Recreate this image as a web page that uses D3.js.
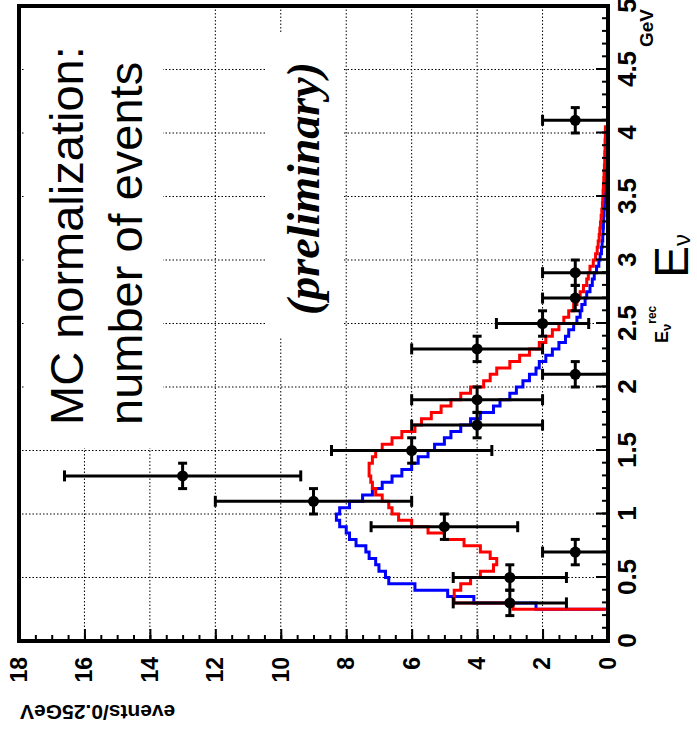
<!DOCTYPE html>
<html><head><meta charset="utf-8">
<script src="https://cdn.jsdelivr.net/npm/d3@7"></script>
<style>body{margin:0;background:#fff}svg{display:block}</style>
</head><body>
<script>
// ---- data ----
const eTickValues = [0,0.5,1,1.5,2,2.5,3,3.5,4,4.5,5];
const eTickLabels = ["0","0.5","1","1.5","2","2.5","3","3.5","4","4.5","5"];
const yTickValues = [0,2,4,6,8,10,12,14,16,18];
const yTickLabels = ["0","2","4","6","8","10","12","14","16","18"];

const dataE   = [0.3,0.5,0.7,0.9,1.1,1.3,1.5,1.7,1.9,2.1,2.3,2.5,2.7,2.9,4.1];
const dataN   = [3,3,1,5,9,13,6,4,4,1,4,2,1,1,1];
const dataErr = [1.73,1.73,1,2.24,3,3.61,2.45,2,2,1,2,1.41,1,1,1];
const dataEErr = 0.1;

const histStart = 0.25, histBinWidth = 0.05;
const blueMC = [2.2,4.1,4.9,5.9,6.7,6.8,7.0,7.1,7.3,7.4,7.7,7.9,8.0,8.2,8.3,8.2,7.9,7.5,7.2,6.9,
  6.6,6.3,6.0,5.8,5.5,5.3,5.0,4.8,4.5,4.2,3.9,3.5,3.3,3.0,2.8,2.6,2.4,2.2,2.1,1.9,
  1.7,1.5,1.3,1.2,1.05,0.95,0.85,0.8,0.7,0.65,0.55,0.48,0.42,0.35,0.28,0.24,0.2,0.18,0.16,0.15,
  0.14,0.13,0.12,0.11,0.1,0.09,0.08,0.07,0.06,0.05,0.04];
const redMC = [2.9,4.7,4.7,4.5,4.2,3.9,3.5,3.4,3.6,3.9,4.4,5.0,5.5,6.0,6.4,6.6,6.7,6.9,7.1,7.2,
  7.25,7.3,7.3,7.2,7.1,6.9,6.6,6.3,5.9,5.7,5.4,5.1,4.8,4.5,4.2,3.8,3.6,3.4,3.0,2.7,
  2.4,2.1,1.9,1.7,1.5,1.35,1.2,1.05,0.95,0.85,0.75,0.65,0.6,0.55,0.45,0.38,0.33,0.3,0.27,0.25,
  0.23,0.21,0.19,0.17,0.16,0.15,0.14,0.13,0.12,0.11,0.1,0.1,0.09,0.09,0.08,0.08];

// ---- layout (original, unrotated frame: 731 wide x 697 tall) ----
const W = 697, H = 731;
const svg = d3.select("body").append("svg").attr("width", W).attr("height", H);
const g = svg.append("g").attr("transform", `translate(0,${H}) rotate(-90)`);

const x = d3.scaleLinear().domain([0,5]).range([90,725]);
const y = d3.scaleLinear().domain([0,18]).range([608,19]);

const sans = "'Liberation Sans', Arial, Helvetica, sans-serif";

// grid
const grid = g.append("g").attr("stroke","#000").attr("stroke-width",1).attr("stroke-dasharray","1.5,2");
eTickValues.slice(1,-1).forEach(v => grid.append("line").attr("x1",x(v)).attr("x2",x(v)).attr("y1",y(0)).attr("y2",y(18)));
yTickValues.slice(1,-1).forEach(v => grid.append("line").attr("x1",x(0)).attr("x2",x(5)).attr("y1",y(v)).attr("y2",y(v)));

// white text boxes (cover grid)
g.append("rect").attr("x",283).attr("y",25).attr("width",725-283).attr("height",163-25).attr("fill","#fff");
g.append("rect").attr("x",393).attr("y",267).attr("width",698-393).attr("height",343-267).attr("fill","#fff");

g.append("text").attr("x",306).attr("y",83).attr("font-family",sans).attr("font-size",47).text("MC normalization:");
g.append("text").attr("x",306).attr("y",142).attr("font-family",sans).attr("font-size",47).text("number of events");
g.append("text").attr("x",416).attr("y",319).attr("font-family","'Liberation Serif', 'Times New Roman', serif")
  .attr("font-size",46).attr("font-weight","bold").attr("font-style","italic").text("(preliminary)");

// histograms
function histPath(vals){
  const pts = [[histStart,0]];
  vals.forEach((v,i)=>{ const lo = histStart+i*histBinWidth; pts.push([lo,v],[lo+histBinWidth,v]); });
  pts.push([histStart+vals.length*histBinWidth,0]);
  return d3.line().x(d=>x(d[0])).y(d=>y(d[1]))(pts);
}
g.append("path").attr("d",histPath(blueMC)).attr("fill","none").attr("stroke","#0000ff").attr("stroke-width",3);
g.append("path").attr("d",histPath(redMC)).attr("fill","none").attr("stroke","#ff0000").attr("stroke-width",3);

// data points
const pg = g.append("g").attr("stroke","#000").attr("stroke-width",3);
dataE.forEach((e,i)=>{
  const n = dataN[i], er = dataErr[i];
  const cx = x(e), cy = y(n);
  pg.append("line").attr("x1",cx).attr("x2",cx).attr("y1",y(n-er)).attr("y2",y(n+er));
  pg.append("line").attr("x1",cx-5.5).attr("x2",cx+5.5).attr("y1",y(n-er)).attr("y2",y(n-er));
  pg.append("line").attr("x1",cx-5.5).attr("x2",cx+5.5).attr("y1",y(n+er)).attr("y2",y(n+er));
  pg.append("line").attr("x1",x(e-dataEErr)).attr("x2",x(e+dataEErr)).attr("y1",cy).attr("y2",cy);
  pg.append("line").attr("x1",x(e-dataEErr)).attr("x2",x(e-dataEErr)).attr("y1",cy-4.5).attr("y2",cy+4.5);
  pg.append("line").attr("x1",x(e+dataEErr)).attr("x2",x(e+dataEErr)).attr("y1",cy-4.5).attr("y2",cy+4.5);
  g.append("circle").attr("cx",cx).attr("cy",cy).attr("r",5.5).attr("fill","#000");
});

// axes
const minorE = d3.range(0,5.0001,0.1);
const minorY = d3.range(0,18.0001,0.5);
const axE = g.append("g").attr("transform",`translate(0,${y(0)})`)
  .call(d3.axisBottom(x).tickValues(minorE).tickSize(-6).tickFormat(""));
const axE2 = g.append("g").attr("transform",`translate(0,${y(0)})`)
  .call(d3.axisBottom(x).tickValues(eTickValues).tickSize(-12).tickPadding(10).tickFormat((d,i)=>eTickLabels[i]));
const axY = g.append("g").attr("transform",`translate(${x(0)},0)`)
  .call(d3.axisLeft(y).tickValues(minorY).tickSize(-6).tickFormat(""));
const axY2 = g.append("g").attr("transform",`translate(${x(0)},0)`)
  .call(d3.axisLeft(y).tickValues(yTickValues).tickSize(-12).tickPadding(16).tickFormat((d,i)=>yTickLabels[i]));
[axE,axE2,axY,axY2].forEach(a=>{ a.select(".domain").remove(); a.selectAll("line").attr("stroke","#000").attr("stroke-width",2); });
axE2.selectAll("text").attr("font-family",sans).attr("font-weight","bold").attr("font-size",26).attr("fill","#000");
axY2.selectAll("text").attr("font-family",sans).attr("font-weight","bold").attr("font-size",23).attr("fill","#000");

// frame
g.append("rect").attr("x",x(0)).attr("y",y(18)).attr("width",x(5)-x(0)).attr("height",y(0)-y(18))
  .attr("fill","none").attr("stroke","#000").attr("stroke-width",4);

// axis titles
g.append("text").attr("transform","translate(26,20) rotate(-90)").attr("text-anchor","end")
  .attr("font-family",sans).attr("font-weight","bold").attr("font-size",21).text("events/0.25GeV");
g.append("text").attr("x",722).attr("y",653).attr("text-anchor","end")
  .attr("font-family",sans).attr("font-weight","bold").attr("font-size",19).text("GeV");
const big = g.append("text").attr("x",453).attr("y",688).attr("font-family",sans).attr("font-size",48);
big.append("tspan").text("E");
big.append("tspan").attr("font-size",24).attr("dy",2).text("ν");
const small = g.append("text").attr("x",388).attr("y",668).attr("font-family",sans).attr("font-weight","bold").attr("font-size",18);
small.append("tspan").text("E");
small.append("tspan").attr("font-size",13).attr("dy",3).text("ν");
small.append("tspan").attr("font-size",12).attr("dy",-15).text("rec");
</script>
</body></html>
